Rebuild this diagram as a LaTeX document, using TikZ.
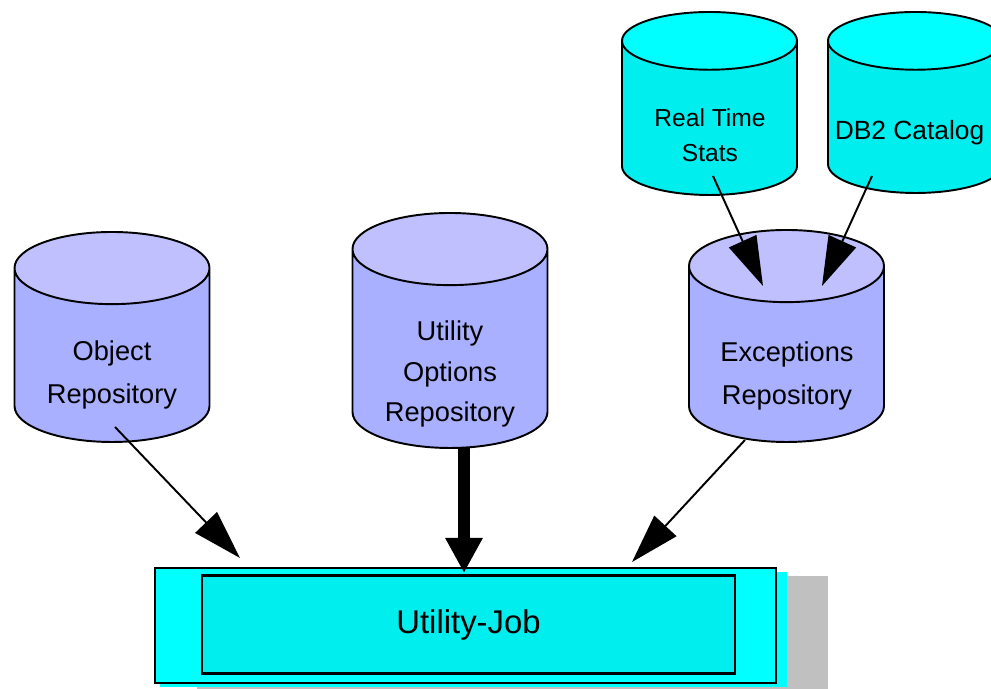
\documentclass[tikz,border=0pt]{standalone}
\usepackage{fontspec}
\setmainfont{Liberation Sans}
\usepackage{tikz}
\usetikzlibrary{positioning,arrows.meta,shapes.geometric}

\definecolor{repotop}{RGB}{192,192,255}
\definecolor{repobody}{RGB}{168,176,255}
\definecolor{dbtop}{RGB}{0,255,255}
\definecolor{dbbody}{RGB}{0,238,238}
\definecolor{shadowgray}{RGB}{192,192,192}

\begin{document}
\begin{tikzpicture}[>={Triangle[length=28pt,width=17pt]},
    repo/.style={cylinder, shape border rotate=90, draw, line width=1.1pt, anchor=shape center,
        cylinder uses custom fill, cylinder end fill=repotop, cylinder body fill=repobody,
        aspect=0.37, inner xsep=1.95cm, inner ysep=0pt},
    db/.style={repo, cylinder end fill=dbtop, cylinder body fill=dbbody, aspect=0.33, inner xsep=1.75cm},
    lbl/.style={align=center, font=\fontsize{15.5}{25}\selectfont},
    feed/.style={->, line width=1.1pt}]
    \useasboundingbox (0,0) rectangle (19.82,13.78);
    \clip (0,0) rectangle (19.82,13.78);

    % repositories
    \node[repo, minimum height=4.2cm] (obj) at (2.24,7.04) {};
    \node[repo, minimum height=4.7cm] (opt) at (9.0,7.17) {};
    \node[repo, minimum height=4.24cm] (exc) at (15.73,7.06) {};
    \node[db, minimum height=3.66cm] (rts) at (14.19,11.71) {};
    \node[db, minimum height=3.62cm] (cat) at (18.31,11.73) {};

    \node[lbl] (objtxt) at (2.24,6.28) {Object\\Repository};
    \node[lbl, font=\fontsize{15.5}{23}\selectfont] (opttxt) at (9.0,6.3) {Utility\\Options\\Repository};
    \node[lbl] (exctxt) at (15.74,6.26) {Exceptions\\Repository};
    \node[lbl, font=\fontsize{14}{20}\selectfont] (rtstxt) at (14.2,11.08) {Real Time\\Stats};
    \node[lbl, font=\fontsize{15}{20}\selectfont] (cattxt) at (18.19,11.12) {DB2 Catalog};

    % the job
    \fill[shadowgray] (3.94,0) rectangle (16.56,2.26);
    \fill[dbtop] (3.2,0.04) rectangle (15.74,2.34);
    \node[draw, line width=1.1pt, fill=dbtop, minimum width=12.42cm, minimum height=2.3cm] (job) at (9.31,1.27) {};
    \node[draw, line width=1.7pt, fill=dbbody, minimum width=10.66cm, minimum height=1.96cm,
        font=\fontsize{18.7}{22}\selectfont] (jobin) at (9.37,1.28) {Utility-Job};

    \draw[feed] ([shift={(0.06,-1.8)}]obj.shape center) -- ([shift={(-4.51,0.18)}]job.north);
    \draw[-{Triangle[length=20pt,width=20pt]}, line width=6.3pt] ([shift={(0.28,-2.35)}]opt.shape center) -- ([shift={(-0.03,-0.12)}]job.north);
    \draw[feed] ([shift={(-0.83,-2.08)}]exc.shape center) -- ([shift={(3.33,0.1)}]job.north);
    \draw[feed] ([shift={(0.07,-1.45)}]rts.shape center) -- ([shift={(-0.47,1.0)}]exc.shape center);
    \draw[feed] ([shift={(-0.87,-1.47)}]cat.shape center) -- ([shift={(0.71,1.0)}]exc.shape center);
\end{tikzpicture}
\end{document}
